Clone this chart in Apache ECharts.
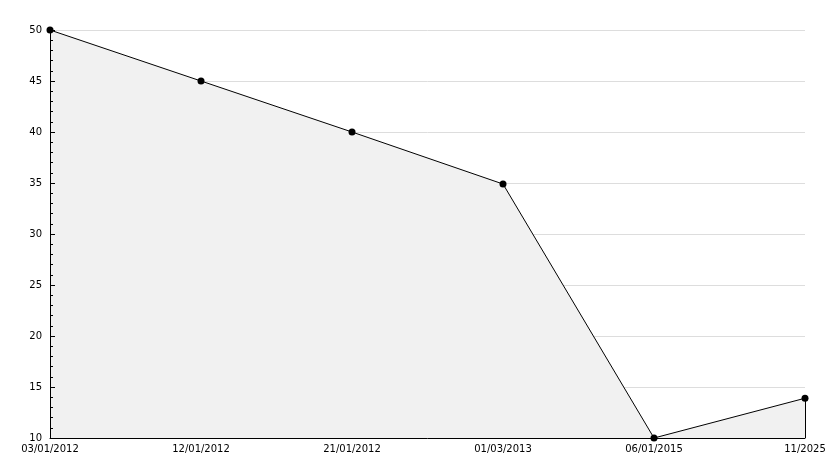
<!DOCTYPE html>
<html><head><meta charset="utf-8">
<script src="https://cdn.jsdelivr.net/npm/echarts@6/dist/echarts.min.js"></script>
<style>html,body{margin:0;padding:0;background:#fff}#c{width:834px;height:468px}</style>
</head><body><div id="c"></div>
<script>
const categories = ['03/01/2012','12/01/2012','21/01/2012','01/03/2013','06/01/2015','11/2025'];
const values = [50, 45, 40, 34.9, 10, 13.9];
const yMin = 10, yMax = 50, yStep = 5;

const chart = echarts.init(document.getElementById('c'), null, {renderer:'canvas'});
const lastIdx = categories.length - 1;
chart.setOption({
  animation:false,
  backgroundColor:'#ffffff',
  grid:{left:50,right:29,top:30,bottom:30,containLabel:false},
  xAxis:{
    type:'category', data:categories, boundaryGap:false, z:10,
    axisLine:{lineStyle:{color:'#000',width:1}},
    axisTick:{show:false},
    axisLabel:{color:'#000',fontFamily:'DejaVu Sans',fontSize:10,margin:6,interval:0},
    splitLine:{show:false}
  },
  yAxis:[{
    type:'value', min:yMin, max:yMax, interval:yStep, z:0,
    axisLine:{show:false}, axisTick:{show:false}, axisLabel:{show:false},
    splitLine:{show:true,lineStyle:{color:'#dddddd',width:1}}
  },{
    type:'value', min:yMin, max:yMax, interval:yStep, z:10, position:'left',
    axisLine:{show:true,onZero:false,lineStyle:{color:'#000',width:1}},
    axisTick:{show:true,inside:true,length:5,lineStyle:{color:'#000'}},
    minorTick:{show:true,splitNumber:5,length:3,lineStyle:{color:'#000'}},
    axisLabel:{color:'#000',fontFamily:'DejaVu Sans',fontSize:10,margin:8},
    splitLine:{show:false}
  }],
  series:[{
    type:'line', data:values, z:5, yAxisIndex:0,
    symbol:'circle', symbolSize:7,
    itemStyle:{color:'#000'},
    lineStyle:{color:'#000',width:1},
    areaStyle:{color:'#f1f1f1',opacity:1, origin:'start'},
    markLine:{
      silent:true, symbol:'none', label:{show:false},
      lineStyle:{color:'#000',width:1,type:'solid'},
      data:[[{coord:[lastIdx, values[lastIdx]]},{coord:[lastIdx, yMin]}]]
    }
  }]
});
</script></body></html>
